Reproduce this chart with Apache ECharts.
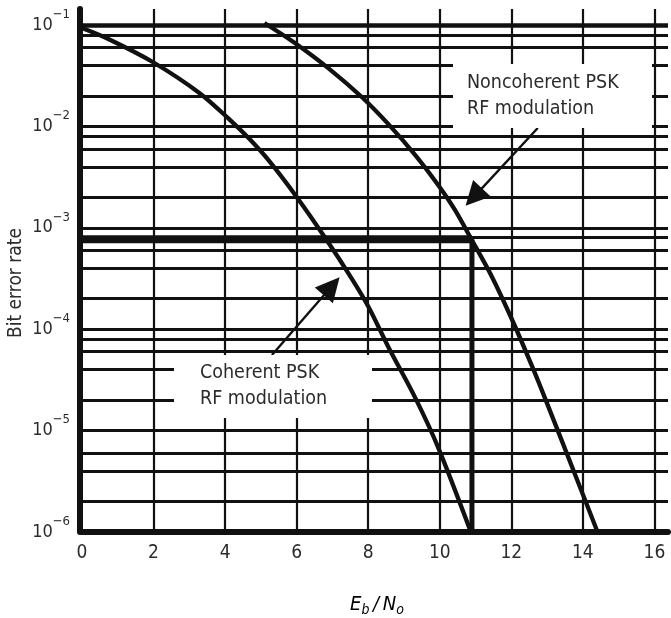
<!DOCTYPE html>
<html><head><meta charset="utf-8">
<script src="https://cdn.jsdelivr.net/npm/echarts@6/dist/echarts.min.js"></script>
<style>html,body{margin:0;padding:0;background:#fff}#c{width:671px;height:618px}</style>
</head><body><div id="c"></div>
<script>
const FONT = "'Liberation Sans Narrow','DejaVu Sans Condensed','Arial Narrow',sans-serif";
const INK = '#111';
const TXT = '#2b2b2b';

// x gridlines / tick labels (Eb/No, dB)
const xTicks = [2, 4, 6, 8, 10, 12, 14, 16];
// horizontal grid levels of the log paper
const gridLevels = [0.08, 0.06, 0.04, 0.02, 0.01, 0.008, 0.006, 0.004, 0.002, 0.001,
  8e-4, 6e-4, 4e-4, 2e-4, 1e-4, 8e-5, 6e-5, 4e-5, 2e-5, 1e-5, 6e-6, 4e-6, 2e-6];
const topLevel = 0.1;

// Coherent PSK curve
const coherentX   = [0, 0.78, 2.00, 3.28, 4.12, 4.67, 5.23, 6.01, 6.82, 7.54, 8.01, 8.57, 9.32, 9.96, 10.87];
const coherentBER = [0.0933, 0.0716, 0.0427, 0.0214, 0.01175, 0.00759, 0.00457, 0.001995, 0.000776, 0.000316, 0.000166, 0.0000661, 0.0000209, 0.00000676, 0.000001];
// Noncoherent PSK curve
const noncoherentX   = [5.10, 5.92, 6.90, 7.82, 8.57, 9.31, 9.96, 10.42, 10.88, 11.44, 12.00, 12.55, 12.93, 13.79, 14.41];
const noncoherentBER = [0.1047, 0.0676, 0.0372, 0.0195, 0.01047, 0.00525, 0.00263, 0.00151, 0.000776, 0.000339, 0.000129, 0.0000457, 0.0000214, 0.00000363, 0.000001];

// threshold marker
const thresholdX = 10.9;
const thresholdBER = 7.7e-4;
const floorBER = 1e-6;

// arrows [x, BER]
const arrowNonFrom = [12.74, 9.64e-3], arrowNonTo = [10.95, 2.01e-3];
const arrowCohFrom = [5.31, 5.57e-5], arrowCohTo = [6.98, 2.65e-4];

const labelNon = ['Noncoherent PSK', 'RF modulation'];
const labelCoh = ['Coherent PSK', 'RF modulation'];

const zip = (xs, ys) => xs.map((x, i) => [x, ys[i]]);

const chart = echarts.init(document.getElementById('c'), null, {renderer: 'canvas'});

const XMAX = 16.38;
const gridLines = [[{coord: [0, topLevel], lineStyle: {width: 4.5}}, {coord: [XMAX, topLevel]}]]
  .concat(gridLevels.map(v => [{coord: [0, v]}, {coord: [XMAX, v]}]))
  .concat(xTicks.map(v => ({xAxis: v, lineStyle: {width: 2.2}})));

function yFmt(v) {
  const l = Math.log10(v);
  const e = Math.round(l);
  if (Math.abs(l - e) > 0.01) return '';
  return '{b|10}{s|\u2212' + (-e) + '}';
}

chart.setOption({
  animation: false,
  backgroundColor: '#fff',
  grid: {left: 82, right: 0, top: 9, bottom: 86, containLabel: false},
  xAxis: {
    type: 'value', min: 0, max: XMAX, interval: 2,
    axisLine: {show: true, lineStyle: {color: INK, width: 6}},
    axisTick: {show: false},
    splitLine: {show: false},
    axisLabel: {
      margin: 12, color: TXT, fontFamily: FONT, fontSize: 19,
      formatter: v => {
        const r = Math.round(v);
        return (Math.abs(v - r) < 1e-6 && r % 2 === 0) ? String(r) : '';
      }
    }
  },
  yAxis: {
    type: 'log', logBase: 10, min: 1e-6, max: 0.1439, offset: 2,
    axisLine: {show: true, onZero: false, lineStyle: {color: INK, width: 6}},
    axisTick: {show: false},
    splitLine: {show: false},
    minorSplitLine: {show: false},
    axisLabel: {
      margin: 10, color: TXT, fontFamily: FONT,
      formatter: yFmt,
      rich: {
        b: {fontSize: 18, fontFamily: FONT, color: TXT, lineHeight: 34},
        s: {fontSize: 13, fontFamily: FONT, color: TXT, lineHeight: 14, verticalAlign: 'top'}
      }
    }
  },
  series: [
    {
      name: 'grid', type: 'line', data: [], silent: true, z: 1,
      markLine: {
        silent: true, z: 1, symbol: ['none', 'none'], animation: false, precision: 12,
        label: {show: false}, emphasis: {disabled: true},
        lineStyle: {color: INK, width: 2.8, type: 'solid'},
        data: gridLines
      }
    },
    {
      name: 'thresholdH', type: 'line', data: [[0, thresholdBER], [thresholdX, thresholdBER]],
      showSymbol: false, silent: true, z: 9,
      lineStyle: {color: INK, width: 8}
    },
    {
      name: 'thresholdV', type: 'line', data: [[thresholdX, thresholdBER], [thresholdX, floorBER]],
      showSymbol: false, silent: true, z: 9,
      lineStyle: {color: INK, width: 5}
    },
    {
      name: 'Coherent PSK', type: 'line', data: zip(coherentX, coherentBER),
      showSymbol: false, smooth: 0.3, silent: true, z: 10,
      lineStyle: {color: INK, width: 4.3}
    },
    {
      name: 'Noncoherent PSK', type: 'line', data: zip(noncoherentX, noncoherentBER),
      showSymbol: false, smooth: 0.3, silent: true, z: 10,
      lineStyle: {color: INK, width: 4.3},
      markLine: {
        silent: true, z: 12, symbol: ['none', 'triangle'], symbolSize: 24, precision: 12,
        label: {show: false}, emphasis: {disabled: true},
        lineStyle: {color: INK, width: 2.4, type: 'solid'},
        itemStyle: {color: INK},
        data: [
          [{coord: arrowNonFrom}, {coord: arrowNonTo}],
          [{coord: arrowCohFrom}, {coord: arrowCohTo}]
        ]
      }
    }
  ],
  graphic: [
    {type: 'rect', z: 20, silent: true, shape: {x: 453, y: 64, width: 199, height: 64}, style: {fill: '#fff'}},
    {type: 'rect', z: 20, silent: true, shape: {x: 174, y: 355, width: 198, height: 63}, style: {fill: '#fff'}},
    {type: 'text', z: 21, silent: true, x: 467, y: 70,
      style: {text: labelNon.join('\n'), fill: TXT, fontFamily: FONT, fontSize: 19.5, lineHeight: 26, verticalAlign: 'top'}},
    {type: 'text', z: 21, silent: true, x: 200, y: 360,
      style: {text: labelCoh.join('\n'), fill: TXT, fontFamily: FONT, fontSize: 19.5, lineHeight: 26, verticalAlign: 'top'}},
    {type: 'text', z: 21, silent: true, x: 16, y: 283, rotation: Math.PI / 2,
      style: {text: 'Bit error rate', fill: TXT, fontFamily: FONT, fontSize: 19, align: 'center', verticalAlign: 'middle'}},
    {type: 'text', z: 21, silent: true, x: 377, y: 606,
      style: {
        text: '{i|E}{s|b}{i|\u2009/\u2009N}{s|o}', align: 'center', verticalAlign: 'middle',
        rich: {
          i: {fontFamily: FONT, fontStyle: 'italic', fontSize: 20, lineHeight: 22, color: TXT, verticalAlign: 'top'},
          s: {fontFamily: FONT, fontStyle: 'italic', fontSize: 14, lineHeight: 12, color: TXT, verticalAlign: 'bottom'}
        }
      }}
  ]
});
</script>
</body></html>
